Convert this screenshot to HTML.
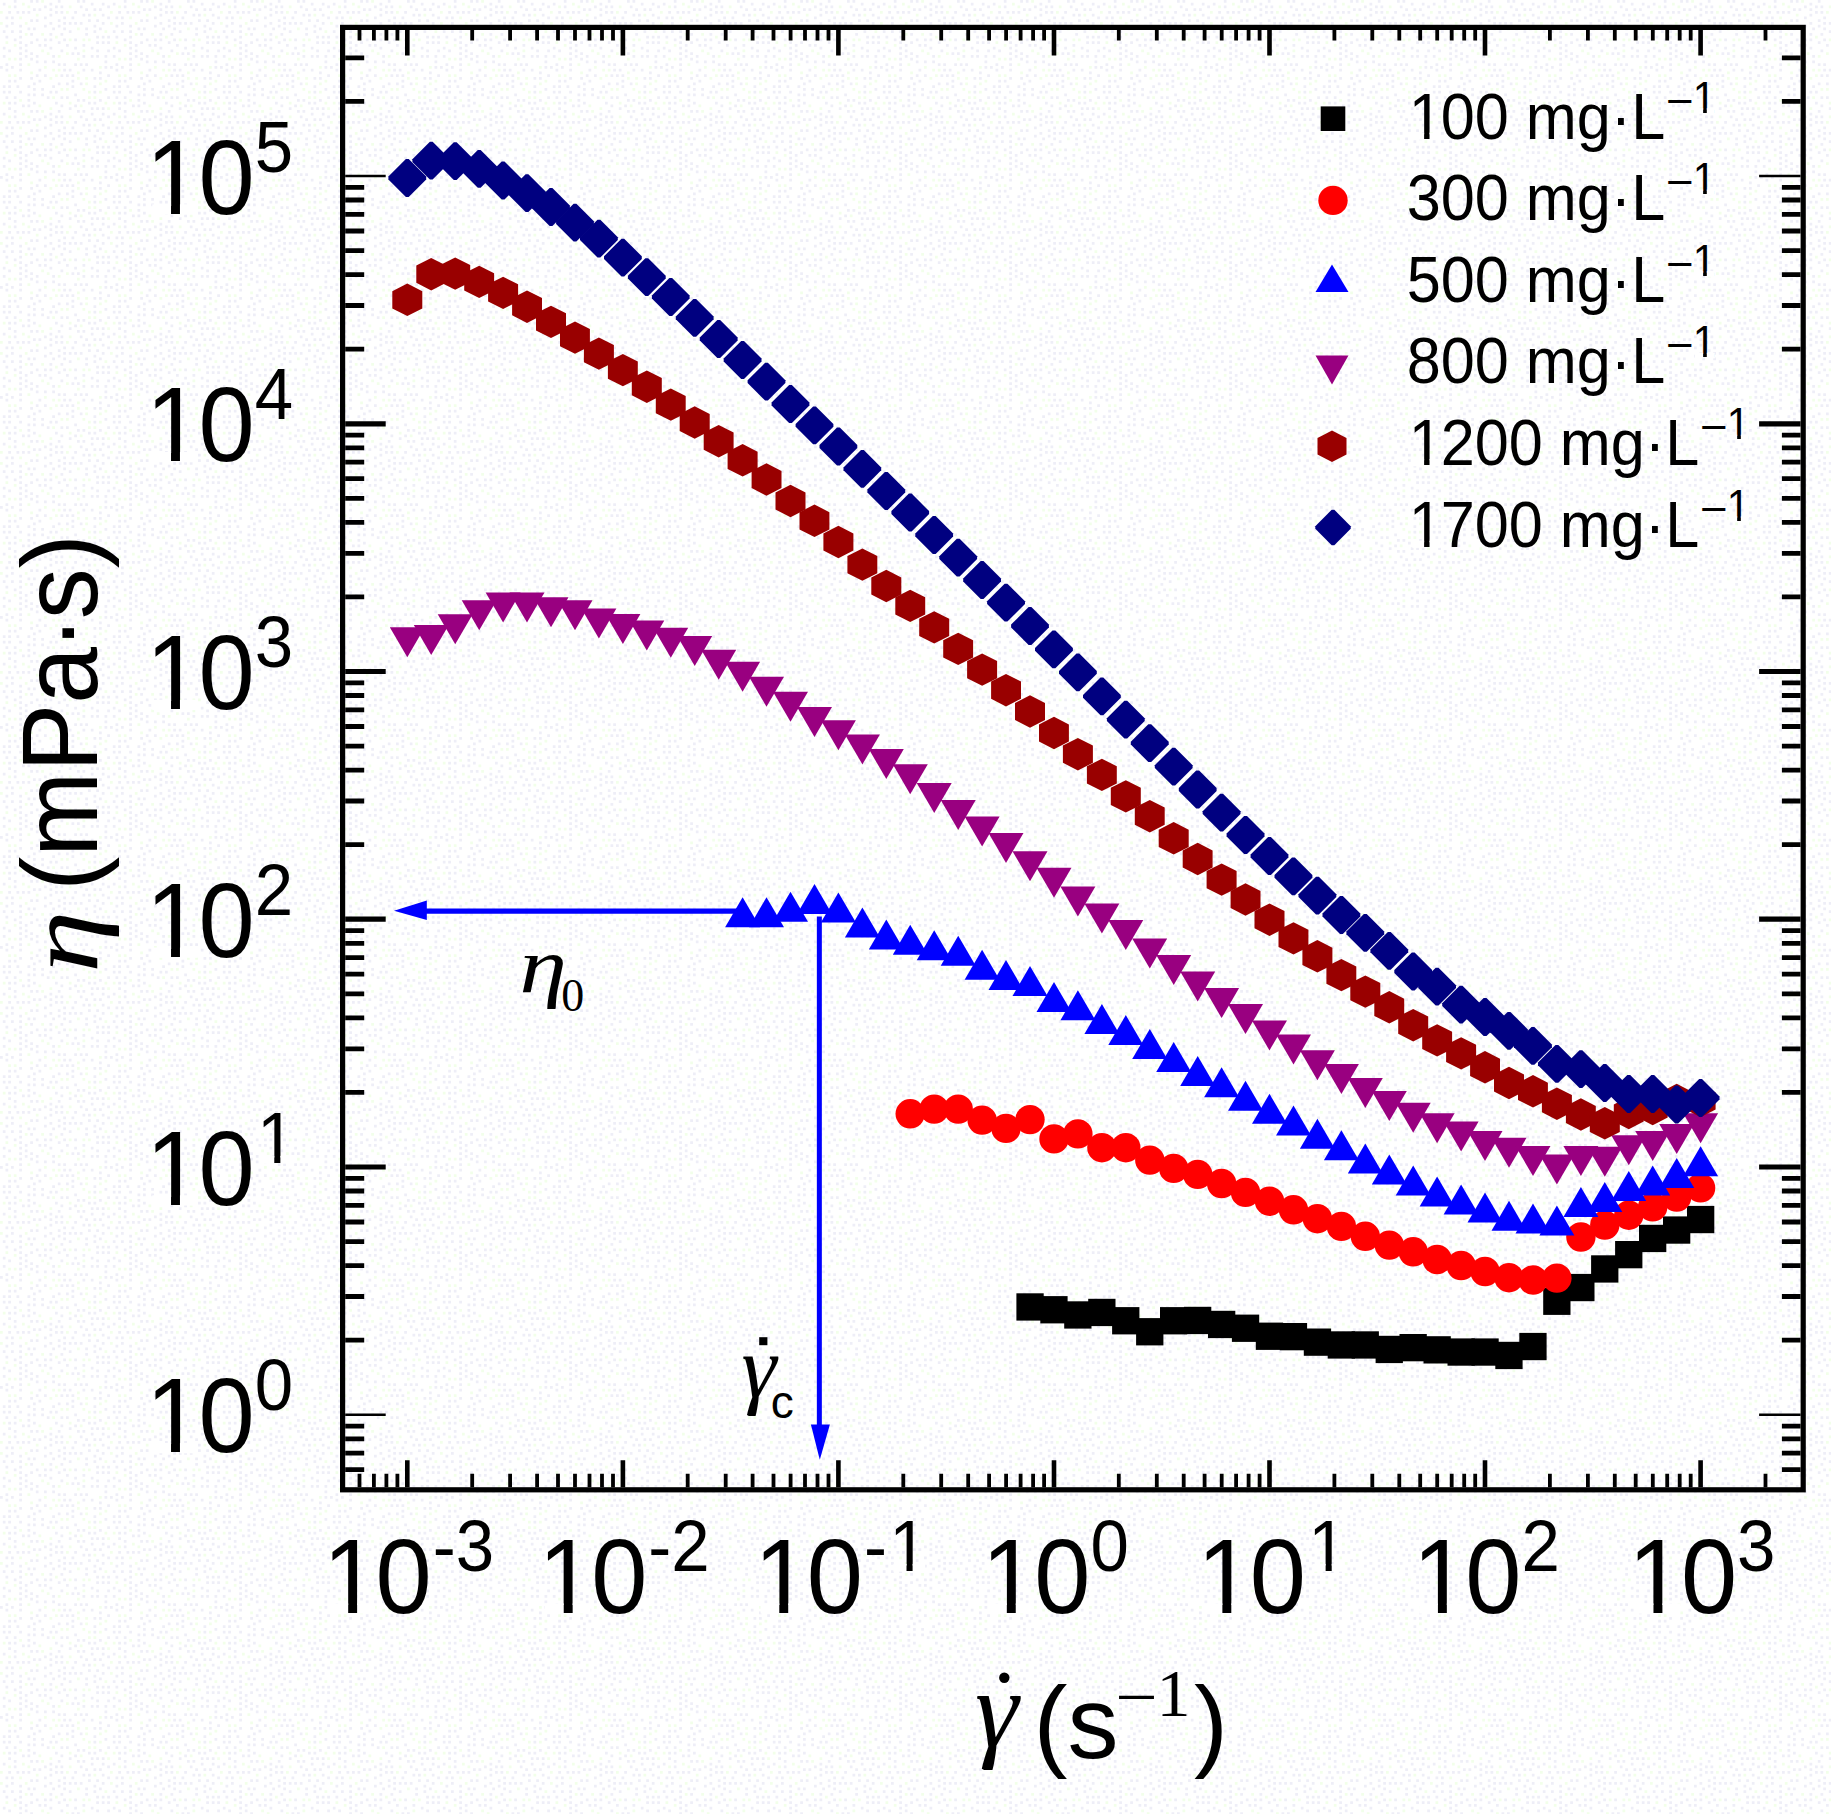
<!DOCTYPE html>
<html lang="en"><head><meta charset="utf-8"><title>Viscosity versus shear rate</title>
<style>
html,body{margin:0;padding:0;background:#fff;}
body{width:1831px;height:1814px;overflow:hidden;}
svg{display:block;}
text{font-family:"Liberation Sans",sans-serif;fill:#000;font-kerning:none;white-space:pre;}
.tl{font-size:101px;}
.sup{font-size:68px;}
.lg{font-size:62px;}
.lgs{font-size:40px;}
.it{font-family:"Liberation Serif",serif;font-style:italic;}
.se{font-family:"Liberation Serif",serif;}
</style></head><body>
<svg width="1831" height="1814" viewBox="0 0 1831 1814">
<rect x="0" y="0" width="1831" height="1814" fill="#ffffff"/>
<defs><pattern id="dz" width="110.0" height="110.0" patternUnits="userSpaceOnUse"><path d="M77 99h2.75v2.75h-2.75zM8.2 107.2h2.75v2.75h-2.75zM24.8 49.5h2.75v2.75h-2.75zM5.5 16.5h2.75v2.75h-2.75zM0 66h2.75v2.75h-2.75zM41.2 93.5h2.75v2.75h-2.75zM90.8 68.8h2.75v2.75h-2.75zM30.2 0h2.75v2.75h-2.75zM107.2 16.5h2.75v2.75h-2.75zM63.2 63.2h2.75v2.75h-2.75zM104.5 88h2.75v2.75h-2.75zM90.8 46.8h2.75v2.75h-2.75zM107.2 49.5h2.75v2.75h-2.75zM71.5 79.8h2.75v2.75h-2.75zM35.8 74.2h2.75v2.75h-2.75zM19.2 68.8h2.75v2.75h-2.75zM60.5 74.2h2.75v2.75h-2.75zM19.2 90.8h2.75v2.75h-2.75zM82.5 13.8h2.75v2.75h-2.75zM82.5 55h2.75v2.75h-2.75zM13.8 38.5h2.75v2.75h-2.75zM96.2 49.5h2.75v2.75h-2.75zM33 88h2.75v2.75h-2.75zM55 90.8h2.75v2.75h-2.75zM19.2 77h2.75v2.75h-2.75zM44 16.5h2.75v2.75h-2.75zM52.2 60.5h2.75v2.75h-2.75zM99 71.5h2.75v2.75h-2.75zM13.8 5.5h2.75v2.75h-2.75zM44 60.5h2.75v2.75h-2.75zM63.2 22h2.75v2.75h-2.75zM93.5 90.8h2.75v2.75h-2.75zM38.5 44h2.75v2.75h-2.75zM104.5 66h2.75v2.75h-2.75zM68.8 68.8h2.75v2.75h-2.75zM107.2 74.2h2.75v2.75h-2.75zM2.8 90.8h2.75v2.75h-2.75zM19.2 41.2h2.75v2.75h-2.75zM74.2 11h2.75v2.75h-2.75zM33 101.8h2.75v2.75h-2.75zM8.2 101.8h2.75v2.75h-2.75zM85.2 8.2h2.75v2.75h-2.75zM19.2 24.8h2.75v2.75h-2.75zM5.5 96.2h2.75v2.75h-2.75zM27.5 85.2h2.75v2.75h-2.75zM88 101.8h2.75v2.75h-2.75zM55 11h2.75v2.75h-2.75zM107.2 35.8h2.75v2.75h-2.75zM93.5 30.2h2.75v2.75h-2.75zM13.8 96.2h2.75v2.75h-2.75zM79.8 22h2.75v2.75h-2.75zM19.2 46.8h2.75v2.75h-2.75zM55 101.8h2.75v2.75h-2.75zM8.2 79.8h2.75v2.75h-2.75zM96.2 55h2.75v2.75h-2.75zM49.5 38.5h2.75v2.75h-2.75zM82.5 68.8h2.75v2.75h-2.75zM52.2 85.2h2.75v2.75h-2.75zM44 74.2h2.75v2.75h-2.75zM52.2 27.5h2.75v2.75h-2.75zM24.8 44h2.75v2.75h-2.75zM2.8 55h2.75v2.75h-2.75zM8.2 49.5h2.75v2.75h-2.75zM66 44h2.75v2.75h-2.75zM44 38.5h2.75v2.75h-2.75zM79.8 5.5h2.75v2.75h-2.75zM27.5 99h2.75v2.75h-2.75zM30.2 77h2.75v2.75h-2.75zM74.2 38.5h2.75v2.75h-2.75zM99 8.2h2.75v2.75h-2.75zM74.2 46.8h2.75v2.75h-2.75zM30.2 33h2.75v2.75h-2.75zM90.8 55h2.75v2.75h-2.75zM30.2 52.2h2.75v2.75h-2.75zM93.5 24.8h2.75v2.75h-2.75zM11 30.2h2.75v2.75h-2.75zM46.8 96.2h2.75v2.75h-2.75zM85.2 27.5h2.75v2.75h-2.75zM2.8 85.2h2.75v2.75h-2.75zM44 24.8h2.75v2.75h-2.75zM101.8 22h2.75v2.75h-2.75zM85.2 63.2h2.75v2.75h-2.75zM90.8 2.8h2.75v2.75h-2.75zM49.5 33h2.75v2.75h-2.75zM77 0h2.75v2.75h-2.75zM104.5 55h2.75v2.75h-2.75zM2.8 46.8h2.75v2.75h-2.75zM68.8 107.2h2.75v2.75h-2.75zM35.8 0h2.75v2.75h-2.75zM93.5 85.2h2.75v2.75h-2.75zM30.2 19.2h2.75v2.75h-2.75zM57.8 0h2.75v2.75h-2.75zM49.5 22h2.75v2.75h-2.75zM38.5 68.8h2.75v2.75h-2.75zM44 44h2.75v2.75h-2.75zM99 99h2.75v2.75h-2.75zM77 52.2h2.75v2.75h-2.75zM57.8 41.2h2.75v2.75h-2.75zM99 27.5h2.75v2.75h-2.75zM22 11h2.75v2.75h-2.75zM71.5 85.2h2.75v2.75h-2.75zM74.2 63.2h2.75v2.75h-2.75zM5.5 68.8h2.75v2.75h-2.75zM57.8 82.5h2.75v2.75h-2.75zM107.2 96.2h2.75v2.75h-2.75zM82.5 0h2.75v2.75h-2.75zM27.5 11h2.75v2.75h-2.75zM96.2 107.2h2.75v2.75h-2.75zM38.5 79.8h2.75v2.75h-2.75zM33 8.2h2.75v2.75h-2.75zM60.5 5.5h2.75v2.75h-2.75zM66 82.5h2.75v2.75h-2.75zM16.5 85.2h2.75v2.75h-2.75zM57.8 19.2h2.75v2.75h-2.75zM5.5 24.8h2.75v2.75h-2.75zM99 77h2.75v2.75h-2.75zM35.8 55h2.75v2.75h-2.75zM82.5 99h2.75v2.75h-2.75zM93.5 8.2h2.75v2.75h-2.75zM96.2 35.8h2.75v2.75h-2.75zM33 93.5h2.75v2.75h-2.75zM96.2 41.2h2.75v2.75h-2.75zM35.8 38.5h2.75v2.75h-2.75zM93.5 101.8h2.75v2.75h-2.75zM60.5 49.5h2.75v2.75h-2.75zM104.5 60.5h2.75v2.75h-2.75zM101.8 35.8h2.75v2.75h-2.75zM88 19.2h2.75v2.75h-2.75zM49.5 2.8h2.75v2.75h-2.75zM74.2 93.5h2.75v2.75h-2.75zM55 5.5h2.75v2.75h-2.75zM63.2 68.8h2.75v2.75h-2.75zM60.5 11h2.75v2.75h-2.75zM19.2 35.8h2.75v2.75h-2.75zM49.5 8.2h2.75v2.75h-2.75zM35.8 60.5h2.75v2.75h-2.75zM68.8 30.2h2.75v2.75h-2.75zM8.2 85.2h2.75v2.75h-2.75zM5.5 35.8h2.75v2.75h-2.75zM11 66h2.75v2.75h-2.75zM85.2 33h2.75v2.75h-2.75zM13.8 0h2.75v2.75h-2.75zM107.2 41.2h2.75v2.75h-2.75zM90.8 107.2h2.75v2.75h-2.75zM19.2 52.2h2.75v2.75h-2.75zM101.8 13.8h2.75v2.75h-2.75zM2.8 30.2h2.75v2.75h-2.75zM44 5.5h2.75v2.75h-2.75zM57.8 63.2h2.75v2.75h-2.75zM13.8 101.8h2.75v2.75h-2.75zM19.2 57.8h2.75v2.75h-2.75zM60.5 33h2.75v2.75h-2.75zM68.8 22h2.75v2.75h-2.75zM71.5 74.2h2.75v2.75h-2.75zM71.5 52.2h2.75v2.75h-2.75zM8.2 90.8h2.75v2.75h-2.75zM16.5 11h2.75v2.75h-2.75zM49.5 46.8h2.75v2.75h-2.75zM30.2 41.2h2.75v2.75h-2.75zM8.2 11h2.75v2.75h-2.75zM101.8 2.8h2.75v2.75h-2.75zM66 96.2h2.75v2.75h-2.75zM27.5 27.5h2.75v2.75h-2.75zM5.5 63.2h2.75v2.75h-2.75zM82.5 44h2.75v2.75h-2.75zM107.2 5.5h2.75v2.75h-2.75zM11 22h2.75v2.75h-2.75zM33 27.5h2.75v2.75h-2.75zM38.5 8.2h2.75v2.75h-2.75zM22 104.5h2.75v2.75h-2.75zM96.2 19.2h2.75v2.75h-2.75zM66 74.2h2.75v2.75h-2.75zM74.2 22h2.75v2.75h-2.75zM74.2 104.5h2.75v2.75h-2.75zM2.8 2.8h2.75v2.75h-2.75zM19.2 63.2h2.75v2.75h-2.75zM27.5 93.5h2.75v2.75h-2.75zM41.2 88h2.75v2.75h-2.75zM79.8 82.5h2.75v2.75h-2.75zM24.8 55h2.75v2.75h-2.75zM101.8 41.2h2.75v2.75h-2.75zM60.5 96.2h2.75v2.75h-2.75zM49.5 13.8h2.75v2.75h-2.75zM33 82.5h2.75v2.75h-2.75zM88 13.8h2.75v2.75h-2.75zM63.2 16.5h2.75v2.75h-2.75zM79.8 63.2h2.75v2.75h-2.75zM19.2 30.2h2.75v2.75h-2.75zM93.5 77h2.75v2.75h-2.75zM101.8 107.2h2.75v2.75h-2.75zM27.5 104.5h2.75v2.75h-2.75zM60.5 104.5h2.75v2.75h-2.75zM30.2 57.8h2.75v2.75h-2.75zM63.2 27.5h2.75v2.75h-2.75zM63.2 38.5h2.75v2.75h-2.75zM13.8 79.8h2.75v2.75h-2.75zM49.5 90.8h2.75v2.75h-2.75zM11 16.5h2.75v2.75h-2.75zM71.5 16.5h2.75v2.75h-2.75zM35.8 19.2h2.75v2.75h-2.75zM52.2 55h2.75v2.75h-2.75zM57.8 24.8h2.75v2.75h-2.75z" fill="#eeeef7"/><path d="M77 71.5h2.75v2.75h-2.75zM77 77h2.75v2.75h-2.75zM68.8 5.5h2.75v2.75h-2.75zM82.5 88h2.75v2.75h-2.75zM38.5 104.5h2.75v2.75h-2.75zM2.8 101.8h2.75v2.75h-2.75zM66 11h2.75v2.75h-2.75zM82.5 38.5h2.75v2.75h-2.75zM41.2 33h2.75v2.75h-2.75zM19.2 99h2.75v2.75h-2.75zM93.5 13.8h2.75v2.75h-2.75zM77 27.5h2.75v2.75h-2.75zM66 88h2.75v2.75h-2.75zM52.2 68.8h2.75v2.75h-2.75zM57.8 55h2.75v2.75h-2.75zM41.2 0h2.75v2.75h-2.75zM13.8 74.2h2.75v2.75h-2.75zM99 82.5h2.75v2.75h-2.75zM27.5 5.5h2.75v2.75h-2.75zM88 96.2h2.75v2.75h-2.75zM41.2 49.5h2.75v2.75h-2.75zM88 90.8h2.75v2.75h-2.75zM8.2 74.2h2.75v2.75h-2.75zM46.8 52.2h2.75v2.75h-2.75zM22 2.8h2.75v2.75h-2.75zM49.5 107.2h2.75v2.75h-2.75zM27.5 63.2h2.75v2.75h-2.75zM24.8 33h2.75v2.75h-2.75zM52.2 96.2h2.75v2.75h-2.75zM0 22h2.75v2.75h-2.75zM68.8 101.8h2.75v2.75h-2.75zM13.8 44h2.75v2.75h-2.75zM24.8 22h2.75v2.75h-2.75zM88 38.5h2.75v2.75h-2.75zM0 11h2.75v2.75h-2.75zM8.2 57.8h2.75v2.75h-2.75zM68.8 38.5h2.75v2.75h-2.75zM55 74.2h2.75v2.75h-2.75zM77 57.8h2.75v2.75h-2.75zM5.5 41.2h2.75v2.75h-2.75zM85.2 77h2.75v2.75h-2.75zM19.2 16.5h2.75v2.75h-2.75zM66 52.2h2.75v2.75h-2.75zM82.5 49.5h2.75v2.75h-2.75zM99 66h2.75v2.75h-2.75zM79.8 104.5h2.75v2.75h-2.75zM35.8 13.8h2.75v2.75h-2.75zM57.8 68.8h2.75v2.75h-2.75zM85.2 82.5h2.75v2.75h-2.75zM107.2 107.2h2.75v2.75h-2.75zM104.5 101.8h2.75v2.75h-2.75zM104.5 79.8h2.75v2.75h-2.75zM44 66h2.75v2.75h-2.75zM104.5 30.2h2.75v2.75h-2.75zM93.5 96.2h2.75v2.75h-2.75zM30.2 71.5h2.75v2.75h-2.75zM49.5 77h2.75v2.75h-2.75zM8.2 5.5h2.75v2.75h-2.75zM60.5 88h2.75v2.75h-2.75zM55 35.8h2.75v2.75h-2.75zM13.8 57.8h2.75v2.75h-2.75zM99 90.8h2.75v2.75h-2.75z" fill="#f2ffea"/></pattern></defs>
<rect x="0" y="0" width="1831" height="1814" fill="url(#dz)"/>
<g stroke="#000" fill="none"><path d="M359.5 1487.2V1473.7M359.5 30V40.5" stroke-width="3.8"/><path d="M373.9 1487.2V1473.7M373.9 30V40.5" stroke-width="3.8"/><path d="M386.4 1487.2V1473.7M386.4 30V40.5" stroke-width="3.8"/><path d="M397.4 1487.2V1473.7M397.4 30V40.5" stroke-width="3.8"/><path d="M407.3 1487.2V1460.2M407.3 30V55.5" stroke-width="4.6"/><path d="M472.2 1487.2V1473.7M472.2 30V40.5" stroke-width="3.8"/><path d="M510.1 1487.2V1473.7M510.1 30V40.5" stroke-width="3.8"/><path d="M537.1 1487.2V1473.7M537.1 30V40.5" stroke-width="3.8"/><path d="M558 1487.2V1473.7M558 30V40.5" stroke-width="3.8"/><path d="M575 1487.2V1473.7M575 30V40.5" stroke-width="3.8"/><path d="M589.5 1487.2V1473.7M589.5 30V40.5" stroke-width="3.8"/><path d="M602 1487.2V1473.7M602 30V40.5" stroke-width="3.8"/><path d="M613 1487.2V1473.7M613 30V40.5" stroke-width="3.8"/><path d="M622.9 1487.2V1460.2M622.9 30V55.5" stroke-width="4.6"/><path d="M687.7 1487.2V1473.7M687.7 30V40.5" stroke-width="3.8"/><path d="M725.7 1487.2V1473.7M725.7 30V40.5" stroke-width="3.8"/><path d="M752.6 1487.2V1473.7M752.6 30V40.5" stroke-width="3.8"/><path d="M773.5 1487.2V1473.7M773.5 30V40.5" stroke-width="3.8"/><path d="M790.6 1487.2V1473.7M790.6 30V40.5" stroke-width="3.8"/><path d="M805 1487.2V1473.7M805 30V40.5" stroke-width="3.8"/><path d="M817.5 1487.2V1473.7M817.5 30V40.5" stroke-width="3.8"/><path d="M828.5 1487.2V1473.7M828.5 30V40.5" stroke-width="3.8"/><path d="M838.4 1487.2V1460.2M838.4 30V55.5" stroke-width="4.6"/><path d="M903.3 1487.2V1473.7M903.3 30V40.5" stroke-width="3.8"/><path d="M941.2 1487.2V1473.7M941.2 30V40.5" stroke-width="3.8"/><path d="M968.2 1487.2V1473.7M968.2 30V40.5" stroke-width="3.8"/><path d="M989.1 1487.2V1473.7M989.1 30V40.5" stroke-width="3.8"/><path d="M1006.1 1487.2V1473.7M1006.1 30V40.5" stroke-width="3.8"/><path d="M1020.6 1487.2V1473.7M1020.6 30V40.5" stroke-width="3.8"/><path d="M1033.1 1487.2V1473.7M1033.1 30V40.5" stroke-width="3.8"/><path d="M1044.1 1487.2V1473.7M1044.1 30V40.5" stroke-width="3.8"/><path d="M1054 1487.2V1460.2M1054 30V55.5" stroke-width="4.6"/><path d="M1118.8 1487.2V1473.7M1118.8 30V40.5" stroke-width="3.8"/><path d="M1156.8 1487.2V1473.7M1156.8 30V40.5" stroke-width="3.8"/><path d="M1183.7 1487.2V1473.7M1183.7 30V40.5" stroke-width="3.8"/><path d="M1204.6 1487.2V1473.7M1204.6 30V40.5" stroke-width="3.8"/><path d="M1221.7 1487.2V1473.7M1221.7 30V40.5" stroke-width="3.8"/><path d="M1236.1 1487.2V1473.7M1236.1 30V40.5" stroke-width="3.8"/><path d="M1248.6 1487.2V1473.7M1248.6 30V40.5" stroke-width="3.8"/><path d="M1259.6 1487.2V1473.7M1259.6 30V40.5" stroke-width="3.8"/><path d="M1269.5 1487.2V1460.2M1269.5 30V55.5" stroke-width="4.6"/><path d="M1334.4 1487.2V1473.7M1334.4 30V40.5" stroke-width="3.8"/><path d="M1372.3 1487.2V1473.7M1372.3 30V40.5" stroke-width="3.8"/><path d="M1399.3 1487.2V1473.7M1399.3 30V40.5" stroke-width="3.8"/><path d="M1420.2 1487.2V1473.7M1420.2 30V40.5" stroke-width="3.8"/><path d="M1437.2 1487.2V1473.7M1437.2 30V40.5" stroke-width="3.8"/><path d="M1451.7 1487.2V1473.7M1451.7 30V40.5" stroke-width="3.8"/><path d="M1464.2 1487.2V1473.7M1464.2 30V40.5" stroke-width="3.8"/><path d="M1475.2 1487.2V1473.7M1475.2 30V40.5" stroke-width="3.8"/><path d="M1485 1487.2V1460.2M1485 30V55.5" stroke-width="4.6"/><path d="M1549.9 1487.2V1473.7M1549.9 30V40.5" stroke-width="3.8"/><path d="M1587.9 1487.2V1473.7M1587.9 30V40.5" stroke-width="3.8"/><path d="M1614.8 1487.2V1473.7M1614.8 30V40.5" stroke-width="3.8"/><path d="M1635.7 1487.2V1473.7M1635.7 30V40.5" stroke-width="3.8"/><path d="M1652.8 1487.2V1473.7M1652.8 30V40.5" stroke-width="3.8"/><path d="M1667.2 1487.2V1473.7M1667.2 30V40.5" stroke-width="3.8"/><path d="M1679.7 1487.2V1473.7M1679.7 30V40.5" stroke-width="3.8"/><path d="M1690.7 1487.2V1473.7M1690.7 30V40.5" stroke-width="3.8"/><path d="M1700.6 1487.2V1460.2M1700.6 30V55.5" stroke-width="4.6"/><path d="M1765.5 1487.2V1473.7M1765.5 30V40.5" stroke-width="3.8"/><path d="M345.2 1469.7H364.2M1800.6 1469.7H1781.9" stroke-width="4.8"/><path d="M345.2 1453.1H364.2M1800.6 1453.1H1781.9" stroke-width="4.8"/><path d="M345.2 1438.8H364.2M1800.6 1438.8H1781.9" stroke-width="4.8"/><path d="M345.2 1426.1H364.2M1800.6 1426.1H1781.9" stroke-width="4.8"/><path d="M345.2 1414.8H385.7M1800.6 1414.8H1759.1" stroke-width="2.4"/><path d="M345.2 1340.2H364.2M1800.6 1340.2H1781.9" stroke-width="4.8"/><path d="M345.2 1296.5H364.2M1800.6 1296.5H1781.9" stroke-width="4.8"/><path d="M345.2 1265.6H364.2M1800.6 1265.6H1781.9" stroke-width="4.8"/><path d="M345.2 1241.6H364.2M1800.6 1241.6H1781.9" stroke-width="4.8"/><path d="M345.2 1222H364.2M1800.6 1222H1781.9" stroke-width="4.8"/><path d="M345.2 1205.4H364.2M1800.6 1205.4H1781.9" stroke-width="4.8"/><path d="M345.2 1191H364.2M1800.6 1191H1781.9" stroke-width="4.8"/><path d="M345.2 1178.3H364.2M1800.6 1178.3H1781.9" stroke-width="4.8"/><path d="M345.2 1167H385.7M1800.6 1167H1759.1" stroke-width="5.2"/><path d="M345.2 1092.4H364.2M1800.6 1092.4H1781.9" stroke-width="4.8"/><path d="M345.2 1048.8H364.2M1800.6 1048.8H1781.9" stroke-width="4.8"/><path d="M345.2 1017.8H364.2M1800.6 1017.8H1781.9" stroke-width="4.8"/><path d="M345.2 993.8H364.2M1800.6 993.8H1781.9" stroke-width="4.8"/><path d="M345.2 974.2H364.2M1800.6 974.2H1781.9" stroke-width="4.8"/><path d="M345.2 957.6H364.2M1800.6 957.6H1781.9" stroke-width="4.8"/><path d="M345.2 943.3H364.2M1800.6 943.3H1781.9" stroke-width="4.8"/><path d="M345.2 930.6H364.2M1800.6 930.6H1781.9" stroke-width="4.8"/><path d="M345.2 919.2H385.7M1800.6 919.2H1759.1" stroke-width="5.2"/><path d="M345.2 844.7H364.2M1800.6 844.7H1781.9" stroke-width="4.8"/><path d="M345.2 801H364.2M1800.6 801H1781.9" stroke-width="4.8"/><path d="M345.2 770.1H364.2M1800.6 770.1H1781.9" stroke-width="4.8"/><path d="M345.2 746.1H364.2M1800.6 746.1H1781.9" stroke-width="4.8"/><path d="M345.2 726.5H364.2M1800.6 726.5H1781.9" stroke-width="4.8"/><path d="M345.2 709.9H364.2M1800.6 709.9H1781.9" stroke-width="4.8"/><path d="M345.2 695.5H364.2M1800.6 695.5H1781.9" stroke-width="4.8"/><path d="M345.2 682.8H364.2M1800.6 682.8H1781.9" stroke-width="4.8"/><path d="M345.2 671.5H385.7M1800.6 671.5H1759.1" stroke-width="5.2"/><path d="M345.2 596.9H364.2M1800.6 596.9H1781.9" stroke-width="4.8"/><path d="M345.2 553.3H364.2M1800.6 553.3H1781.9" stroke-width="4.8"/><path d="M345.2 522.3H364.2M1800.6 522.3H1781.9" stroke-width="4.8"/><path d="M345.2 498.3H364.2M1800.6 498.3H1781.9" stroke-width="4.8"/><path d="M345.2 478.7H364.2M1800.6 478.7H1781.9" stroke-width="4.8"/><path d="M345.2 462.1H364.2M1800.6 462.1H1781.9" stroke-width="4.8"/><path d="M345.2 447.8H364.2M1800.6 447.8H1781.9" stroke-width="4.8"/><path d="M345.2 435.1H364.2M1800.6 435.1H1781.9" stroke-width="4.8"/><path d="M345.2 423.8H385.7M1800.6 423.8H1759.1" stroke-width="5.2"/><path d="M345.2 349.2H364.2M1800.6 349.2H1781.9" stroke-width="4.8"/><path d="M345.2 305.5H364.2M1800.6 305.5H1781.9" stroke-width="4.8"/><path d="M345.2 274.6H364.2M1800.6 274.6H1781.9" stroke-width="4.8"/><path d="M345.2 250.6H364.2M1800.6 250.6H1781.9" stroke-width="4.8"/><path d="M345.2 231H364.2M1800.6 231H1781.9" stroke-width="4.8"/><path d="M345.2 214.4H364.2M1800.6 214.4H1781.9" stroke-width="4.8"/><path d="M345.2 200H364.2M1800.6 200H1781.9" stroke-width="4.8"/><path d="M345.2 187.3H364.2M1800.6 187.3H1781.9" stroke-width="4.8"/><path d="M345.2 176H385.7M1800.6 176H1759.1" stroke-width="2.4"/><path d="M345.2 101.4H364.2M1800.6 101.4H1781.9" stroke-width="4.8"/><path d="M345.2 57.8H364.2M1800.6 57.8H1781.9" stroke-width="4.8"/></g>
<rect x="342.6" y="27.4" width="1460.6" height="1462.4" fill="none" stroke="#000" stroke-width="5.2"/>
<g transform="translate(0 1612.7) scale(1 1.05)"><text><tspan x="322.79" y="0" style="font-size:101px">1</tspan><tspan x="375.62" y="0" style="font-size:101px">0</tspan><tspan x="432.8" y="-40" style="font-size:69px">-3</tspan></text><g fill="#ffffff"><rect x="329.48" y="-8.85" width="18.7" height="9.75"/><rect x="357.11" y="-8.85" width="17.92" height="9.75"/></g></g>
<g transform="translate(0 1612.7) scale(1 1.05)"><text><tspan x="538.34" y="0" style="font-size:101px">1</tspan><tspan x="591.17" y="0" style="font-size:101px">0</tspan><tspan x="648.35" y="-40" style="font-size:69px">-2</tspan></text><g fill="#ffffff"><rect x="545.03" y="-8.85" width="18.7" height="9.75"/><rect x="572.66" y="-8.85" width="17.92" height="9.75"/></g></g>
<g transform="translate(0 1612.7) scale(1 1.05)"><text><tspan x="753.89" y="0" style="font-size:101px">1</tspan><tspan x="806.72" y="0" style="font-size:101px">0</tspan><tspan x="863.9" y="-40" style="font-size:69px">-</tspan><tspan x="889.15" y="-40" style="font-size:69px">1</tspan></text><g fill="#ffffff"><rect x="760.58" y="-8.85" width="18.7" height="9.75"/><rect x="788.21" y="-8.85" width="17.92" height="9.75"/><rect x="893.41" y="-46.45" width="13.1" height="7.35"/><rect x="912.6" y="-46.45" width="12.56" height="7.35"/></g></g>
<g transform="translate(0 1612.7) scale(1 1.05)"><text><tspan x="981.42" y="0" style="font-size:101px">1</tspan><tspan x="1034.26" y="0" style="font-size:101px">0</tspan><tspan x="1090.43" y="-40" style="font-size:69px">0</tspan></text><g fill="#ffffff"><rect x="988.12" y="-8.85" width="18.7" height="9.75"/><rect x="1015.75" y="-8.85" width="17.92" height="9.75"/></g></g>
<g transform="translate(0 1612.7) scale(1 1.05)"><text><tspan x="1196.97" y="0" style="font-size:101px">1</tspan><tspan x="1249.81" y="0" style="font-size:101px">0</tspan><tspan x="1308.26" y="-40" style="font-size:69px">1</tspan></text><g fill="#ffffff"><rect x="1203.67" y="-8.85" width="18.7" height="9.75"/><rect x="1231.3" y="-8.85" width="17.92" height="9.75"/><rect x="1312.52" y="-46.45" width="13.1" height="7.35"/><rect x="1331.71" y="-46.45" width="12.56" height="7.35"/></g></g>
<g transform="translate(0 1612.7) scale(1 1.05)"><text><tspan x="1412.52" y="0" style="font-size:101px">1</tspan><tspan x="1465.36" y="0" style="font-size:101px">0</tspan><tspan x="1521.53" y="-40" style="font-size:69px">2</tspan></text><g fill="#ffffff"><rect x="1419.22" y="-8.85" width="18.7" height="9.75"/><rect x="1446.85" y="-8.85" width="17.92" height="9.75"/></g></g>
<g transform="translate(0 1612.7) scale(1 1.05)"><text><tspan x="1628.07" y="0" style="font-size:101px">1</tspan><tspan x="1680.91" y="0" style="font-size:101px">0</tspan><tspan x="1737.08" y="-40" style="font-size:69px">3</tspan></text><g fill="#ffffff"><rect x="1634.77" y="-8.85" width="18.7" height="9.75"/><rect x="1662.4" y="-8.85" width="17.92" height="9.75"/></g></g>
<g transform="translate(0 1452.35) scale(1 1.05)"><text><tspan x="145.63" y="0" style="font-size:101px">1</tspan><tspan x="198.47" y="0" style="font-size:101px">0</tspan><tspan x="254.64" y="-40" style="font-size:69px">0</tspan></text><g fill="#ffffff"><rect x="152.33" y="-8.85" width="18.7" height="9.75"/><rect x="179.96" y="-8.85" width="17.92" height="9.75"/></g></g>
<g transform="translate(0 1204.6) scale(1 1.05)"><text><tspan x="145.63" y="0" style="font-size:101px">1</tspan><tspan x="198.47" y="0" style="font-size:101px">0</tspan><tspan x="256.92" y="-40" style="font-size:69px">1</tspan></text><g fill="#ffffff"><rect x="152.33" y="-8.85" width="18.7" height="9.75"/><rect x="179.96" y="-8.85" width="17.92" height="9.75"/><rect x="261.18" y="-46.45" width="13.1" height="7.35"/><rect x="280.37" y="-46.45" width="12.56" height="7.35"/></g></g>
<g transform="translate(0 956.85) scale(1 1.05)"><text><tspan x="145.63" y="0" style="font-size:101px">1</tspan><tspan x="198.47" y="0" style="font-size:101px">0</tspan><tspan x="254.64" y="-40" style="font-size:69px">2</tspan></text><g fill="#ffffff"><rect x="152.33" y="-8.85" width="18.7" height="9.75"/><rect x="179.96" y="-8.85" width="17.92" height="9.75"/></g></g>
<g transform="translate(0 709.1) scale(1 1.05)"><text><tspan x="145.63" y="0" style="font-size:101px">1</tspan><tspan x="198.47" y="0" style="font-size:101px">0</tspan><tspan x="254.64" y="-40" style="font-size:69px">3</tspan></text><g fill="#ffffff"><rect x="152.33" y="-8.85" width="18.7" height="9.75"/><rect x="179.96" y="-8.85" width="17.92" height="9.75"/></g></g>
<g transform="translate(0 461.35) scale(1 1.05)"><text><tspan x="145.63" y="0" style="font-size:101px">1</tspan><tspan x="198.47" y="0" style="font-size:101px">0</tspan><tspan x="254.64" y="-40" style="font-size:69px">4</tspan></text><g fill="#ffffff"><rect x="152.33" y="-8.85" width="18.7" height="9.75"/><rect x="179.96" y="-8.85" width="17.92" height="9.75"/></g></g>
<g transform="translate(0 213.6) scale(1 1.05)"><text><tspan x="145.63" y="0" style="font-size:101px">1</tspan><tspan x="198.47" y="0" style="font-size:101px">0</tspan><tspan x="254.64" y="-40" style="font-size:69px">5</tspan></text><g fill="#ffffff"><rect x="152.33" y="-8.85" width="18.7" height="9.75"/><rect x="179.96" y="-8.85" width="17.92" height="9.75"/></g></g>
<g fill="#000000"><rect x="1016.4" y="1293.3" width="27.3" height="27.3"/><rect x="1040.3" y="1296.1" width="27.3" height="27.3"/><rect x="1064.2" y="1301.3" width="27.3" height="27.3"/><rect x="1088.2" y="1298.8" width="27.3" height="27.3"/><rect x="1112.1" y="1307.1" width="27.3" height="27.3"/><rect x="1136.1" y="1318.1" width="27.3" height="27.3"/><rect x="1160" y="1307.1" width="27.3" height="27.3"/><rect x="1184" y="1306.8" width="27.3" height="27.3"/><rect x="1208" y="1310.8" width="27.3" height="27.3"/><rect x="1231.9" y="1314.6" width="27.3" height="27.3"/><rect x="1255.8" y="1322.6" width="27.3" height="27.3"/><rect x="1279.8" y="1323" width="27.3" height="27.3"/><rect x="1303.8" y="1328.5" width="27.3" height="27.3"/><rect x="1327.7" y="1331.3" width="27.3" height="27.3"/><rect x="1351.6" y="1331.3" width="27.3" height="27.3"/><rect x="1375.6" y="1335.8" width="27.3" height="27.3"/><rect x="1399.5" y="1334" width="27.3" height="27.3"/><rect x="1423.5" y="1336.2" width="27.3" height="27.3"/><rect x="1447.5" y="1338.4" width="27.3" height="27.3"/><rect x="1471.4" y="1338.4" width="27.3" height="27.3"/><rect x="1495.3" y="1341.8" width="27.3" height="27.3"/><rect x="1519.3" y="1332.9" width="27.3" height="27.3"/><rect x="1543.2" y="1287.6" width="27.3" height="27.3"/><rect x="1567.2" y="1273.9" width="27.3" height="27.3"/><rect x="1591.1" y="1255.3" width="27.3" height="27.3"/><rect x="1615.1" y="1241" width="27.3" height="27.3"/><rect x="1639" y="1224.8" width="27.3" height="27.3"/><rect x="1663" y="1216.4" width="27.3" height="27.3"/><rect x="1687" y="1205.9" width="27.3" height="27.3"/></g>
<g fill="#ff0000"><circle cx="910.2" cy="1113.8" r="14.7"/><circle cx="934.2" cy="1109.1" r="14.7"/><circle cx="958.2" cy="1109.1" r="14.7"/><circle cx="982.1" cy="1120.1" r="14.7"/><circle cx="1006" cy="1128.4" r="14.7"/><circle cx="1030" cy="1119.6" r="14.7"/><circle cx="1054" cy="1138.9" r="14.7"/><circle cx="1077.9" cy="1133.9" r="14.7"/><circle cx="1101.9" cy="1147.7" r="14.7"/><circle cx="1125.8" cy="1147.7" r="14.7"/><circle cx="1149.8" cy="1160.1" r="14.7"/><circle cx="1173.7" cy="1168.4" r="14.7"/><circle cx="1197.7" cy="1174.4" r="14.7"/><circle cx="1221.6" cy="1183.5" r="14.7"/><circle cx="1245.5" cy="1192.4" r="14.7"/><circle cx="1269.5" cy="1201.2" r="14.7"/><circle cx="1293.5" cy="1209.8" r="14.7"/><circle cx="1317.4" cy="1218.7" r="14.7"/><circle cx="1341.4" cy="1226.4" r="14.7"/><circle cx="1365.3" cy="1236.3" r="14.7"/><circle cx="1389.3" cy="1245.1" r="14.7"/><circle cx="1413.2" cy="1251.8" r="14.7"/><circle cx="1437.1" cy="1259.5" r="14.7"/><circle cx="1461.1" cy="1265.5" r="14.7"/><circle cx="1485" cy="1271.5" r="14.7"/><circle cx="1509" cy="1277.7" r="14.7"/><circle cx="1533" cy="1280" r="14.7"/><circle cx="1556.9" cy="1278.1" r="14.7"/><circle cx="1580.9" cy="1237" r="14.7"/><circle cx="1604.8" cy="1225.1" r="14.7"/><circle cx="1628.8" cy="1215.2" r="14.7"/><circle cx="1652.7" cy="1206.9" r="14.7"/><circle cx="1676.7" cy="1197" r="14.7"/><circle cx="1700.6" cy="1187.9" r="14.7"/></g>
<g fill="#0000ff"><polygon points="742.6,897.3 760.1,927.3 725.1,927.3"/><polygon points="766.5,897.3 784,927.3 749,927.3"/><polygon points="790.5,891.7 808,921.7 773,921.7"/><polygon points="814.5,884.1 832,914.1 797,914.1"/><polygon points="838.4,892.5 855.9,922.5 820.9,922.5"/><polygon points="862.4,907.6 879.9,937.6 844.9,937.6"/><polygon points="886.3,919.5 903.8,949.5 868.8,949.5"/><polygon points="910.2,924.7 927.8,954.7 892.8,954.7"/><polygon points="934.2,930.2 951.7,960.2 916.7,960.2"/><polygon points="958.2,935.7 975.7,965.7 940.7,965.7"/><polygon points="982.1,949.8 999.6,979.8 964.6,979.8"/><polygon points="1006,960 1023.5,990 988.5,990"/><polygon points="1030,966 1047.5,996 1012.5,996"/><polygon points="1054,982 1071.5,1012 1036.5,1012"/><polygon points="1077.9,990.3 1095.4,1020.3 1060.4,1020.3"/><polygon points="1101.9,1004.1 1119.4,1034.1 1084.4,1034.1"/><polygon points="1125.8,1015.1 1143.3,1045.1 1108.3,1045.1"/><polygon points="1149.8,1028.9 1167.2,1058.9 1132.2,1058.9"/><polygon points="1173.7,1042.1 1191.2,1072.1 1156.2,1072.1"/><polygon points="1197.7,1055.9 1215.2,1085.9 1180.2,1085.9"/><polygon points="1221.6,1067.3 1239.1,1097.3 1204.1,1097.3"/><polygon points="1245.5,1080.7 1263,1110.7 1228,1110.7"/><polygon points="1269.5,1093.8 1287,1123.8 1252,1123.8"/><polygon points="1293.5,1105.4 1311,1135.4 1276,1135.4"/><polygon points="1317.4,1118.8 1334.9,1148.8 1299.9,1148.8"/><polygon points="1341.4,1130.2 1358.9,1160.2 1323.9,1160.2"/><polygon points="1365.3,1143.5 1382.8,1173.5 1347.8,1173.5"/><polygon points="1389.3,1154.5 1406.8,1184.5 1371.8,1184.5"/><polygon points="1413.2,1165.5 1430.7,1195.5 1395.7,1195.5"/><polygon points="1437.1,1176.5 1454.6,1206.5 1419.6,1206.5"/><polygon points="1461.1,1184.6 1478.6,1214.6 1443.6,1214.6"/><polygon points="1485,1192.6 1502.5,1222.6 1467.5,1222.6"/><polygon points="1509,1200.8 1526.5,1230.8 1491.5,1230.8"/><polygon points="1533,1203.6 1550.5,1233.6 1515.5,1233.6"/><polygon points="1556.9,1205.5 1574.4,1235.5 1539.4,1235.5"/><polygon points="1580.9,1186.9 1598.4,1216.9 1563.4,1216.9"/><polygon points="1604.8,1181.9 1622.3,1211.9 1587.3,1211.9"/><polygon points="1628.8,1171.1 1646.2,1201.1 1611.2,1201.1"/><polygon points="1652.7,1165.4 1670.2,1195.4 1635.2,1195.4"/><polygon points="1676.7,1157.9 1694.2,1187.9 1659.2,1187.9"/><polygon points="1700.6,1146.3 1718.1,1176.3 1683.1,1176.3"/></g>
<g fill="#990080"><polygon points="407.3,657.3 424.8,627.3 389.8,627.3"/><polygon points="431.2,654.9 448.8,624.9 413.8,624.9"/><polygon points="455.2,644.2 472.7,614.2 437.7,614.2"/><polygon points="479.2,630.2 496.7,600.2 461.7,600.2"/><polygon points="503.1,622.5 520.6,592.5 485.6,592.5"/><polygon points="527,622.5 544.5,592.5 509.5,592.5"/><polygon points="551,627.3 568.5,597.3 533.5,597.3"/><polygon points="575,630.2 592.5,600.2 557.5,600.2"/><polygon points="598.9,638.5 616.4,608.5 581.4,608.5"/><polygon points="622.9,644 640.4,614 605.4,614"/><polygon points="646.8,650.4 664.3,620.4 629.3,620.4"/><polygon points="670.8,657.8 688.2,627.8 653.2,627.8"/><polygon points="694.7,666 712.2,636 677.2,636"/><polygon points="718.7,679.7 736.2,649.7 701.2,649.7"/><polygon points="742.6,691.8 760.1,661.8 725.1,661.8"/><polygon points="766.5,706.7 784,676.7 749,676.7"/><polygon points="790.5,721.7 808,691.7 773,691.7"/><polygon points="814.5,737 832,707 797,707"/><polygon points="838.4,750.3 855.9,720.3 820.9,720.3"/><polygon points="862.4,764.4 879.9,734.4 844.9,734.4"/><polygon points="886.3,779.1 903.8,749.1 868.8,749.1"/><polygon points="910.2,794.3 927.8,764.3 892.8,764.3"/><polygon points="934.2,812.9 951.7,782.9 916.7,782.9"/><polygon points="958.2,830.1 975.7,800.1 940.7,800.1"/><polygon points="982.1,846.4 999.6,816.4 964.6,816.4"/><polygon points="1006,862.9 1023.5,832.9 988.5,832.9"/><polygon points="1030,881.3 1047.5,851.3 1012.5,851.3"/><polygon points="1054,897.8 1071.5,867.8 1036.5,867.8"/><polygon points="1077.9,916.5 1095.4,886.5 1060.4,886.5"/><polygon points="1101.9,933.5 1119.4,903.5 1084.4,903.5"/><polygon points="1125.8,950 1143.3,920 1108.3,920"/><polygon points="1149.8,968.5 1167.2,938.5 1132.2,938.5"/><polygon points="1173.7,985 1191.2,955 1156.2,955"/><polygon points="1197.7,1001.6 1215.2,971.6 1180.2,971.6"/><polygon points="1221.6,1018.1 1239.1,988.1 1204.1,988.1"/><polygon points="1245.5,1034.1 1263,1004.1 1228,1004.1"/><polygon points="1269.5,1050.4 1287,1020.4 1252,1020.4"/><polygon points="1293.5,1064.5 1311,1034.5 1276,1034.5"/><polygon points="1317.4,1080.3 1334.9,1050.3 1299.9,1050.3"/><polygon points="1341.4,1094.1 1358.9,1064.1 1323.9,1064.1"/><polygon points="1365.3,1107.9 1382.8,1077.9 1347.8,1077.9"/><polygon points="1389.3,1121.1 1406.8,1091.1 1371.8,1091.1"/><polygon points="1413.2,1132.7 1430.7,1102.7 1395.7,1102.7"/><polygon points="1437.1,1143.2 1454.6,1113.2 1419.6,1113.2"/><polygon points="1461.1,1151.5 1478.6,1121.5 1443.6,1121.5"/><polygon points="1485,1161.1 1502.5,1131.1 1467.5,1131.1"/><polygon points="1509,1167.8 1526.5,1137.8 1491.5,1137.8"/><polygon points="1533,1176.1 1550.5,1146.1 1515.5,1146.1"/><polygon points="1556.9,1184.6 1574.4,1154.6 1539.4,1154.6"/><polygon points="1580.9,1176.1 1598.4,1146.1 1563.4,1146.1"/><polygon points="1604.8,1176.8 1622.3,1146.8 1587.3,1146.8"/><polygon points="1628.8,1165.2 1646.2,1135.2 1611.2,1135.2"/><polygon points="1652.7,1161.1 1670.2,1131.1 1635.2,1131.1"/><polygon points="1676.7,1154.1 1694.2,1124.1 1659.2,1124.1"/><polygon points="1700.6,1143.3 1718.1,1113.3 1683.1,1113.3"/></g>
<g fill="#990000"><polygon points="407.3,283.6 422.3,291.2 422.3,308.4 407.3,316 392.3,308.4 392.3,291.2"/><polygon points="431.2,258 446.2,265.6 446.2,282.8 431.2,290.4 416.3,282.8 416.3,265.6"/><polygon points="455.2,257.4 470.2,265 470.2,282.2 455.2,289.8 440.2,282.2 440.2,265"/><polygon points="479.2,265.7 494.1,273.3 494.1,290.5 479.2,298.1 464.2,290.5 464.2,273.3"/><polygon points="503.1,276.7 518.1,284.3 518.1,301.5 503.1,309.1 488.1,301.5 488.1,284.3"/><polygon points="527,290.5 542,298.1 542,315.3 527,322.9 512.1,315.3 512.1,298.1"/><polygon points="551,305.7 566,313.3 566,330.5 551,338.1 536,330.5 536,313.3"/><polygon points="575,321.4 589.9,329 589.9,346.2 575,353.8 560,346.2 560,329"/><polygon points="598.9,337.4 613.9,345 613.9,362.2 598.9,369.8 583.9,362.2 583.9,345"/><polygon points="622.9,353.9 637.8,361.5 637.8,378.7 622.9,386.3 607.9,378.7 607.9,361.5"/><polygon points="646.8,370.5 661.8,378.1 661.8,395.3 646.8,402.9 631.8,395.3 631.8,378.1"/><polygon points="670.8,388.4 685.7,396 685.7,413.2 670.8,420.8 655.8,413.2 655.8,396"/><polygon points="694.7,406.3 709.7,413.9 709.7,431.1 694.7,438.7 679.7,431.1 679.7,413.9"/><polygon points="718.7,425 733.6,432.6 733.6,449.8 718.7,457.4 703.7,449.8 703.7,432.6"/><polygon points="742.6,444.1 757.6,451.7 757.6,468.9 742.6,476.5 727.6,468.9 727.6,451.7"/><polygon points="766.5,463.3 781.5,470.9 781.5,488.1 766.5,495.7 751.6,488.1 751.6,470.9"/><polygon points="790.5,484.8 805.5,492.4 805.5,509.6 790.5,517.2 775.5,509.6 775.5,492.4"/><polygon points="814.5,504.6 829.4,512.2 829.4,529.4 814.5,537 799.5,529.4 799.5,512.2"/><polygon points="838.4,525.8 853.4,533.4 853.4,550.6 838.4,558.2 823.4,550.6 823.4,533.4"/><polygon points="862.4,548.4 877.3,556 877.3,573.2 862.4,580.8 847.4,573.2 847.4,556"/><polygon points="886.3,569.8 901.3,577.4 901.3,594.6 886.3,602.2 871.3,594.6 871.3,577.4"/><polygon points="910.2,589.7 925.2,597.3 925.2,614.5 910.2,622.1 895.3,614.5 895.3,597.3"/><polygon points="934.2,611.2 949.2,618.8 949.2,636 934.2,643.6 919.2,636 919.2,618.8"/><polygon points="958.2,632.7 973.1,640.3 973.1,657.5 958.2,665.1 943.2,657.5 943.2,640.3"/><polygon points="982.1,653.4 997.1,661 997.1,678.2 982.1,685.8 967.1,678.2 967.1,661"/><polygon points="1006,674 1021,681.6 1021,698.8 1006,706.4 991.1,698.8 991.1,681.6"/><polygon points="1030,695.3 1045,702.9 1045,720.1 1030,727.7 1015,720.1 1015,702.9"/><polygon points="1054,716.8 1068.9,724.4 1068.9,741.6 1054,749.2 1039,741.6 1039,724.4"/><polygon points="1077.9,738 1092.9,745.6 1092.9,762.8 1077.9,770.4 1062.9,762.8 1062.9,745.6"/><polygon points="1101.9,758.7 1116.8,766.3 1116.8,783.5 1101.9,791.1 1086.9,783.5 1086.9,766.3"/><polygon points="1125.8,780.2 1140.8,787.8 1140.8,805 1125.8,812.6 1110.8,805 1110.8,787.8"/><polygon points="1149.8,800 1164.7,807.6 1164.7,824.8 1149.8,832.4 1134.8,824.8 1134.8,807.6"/><polygon points="1173.7,822.1 1188.7,829.7 1188.7,846.9 1173.7,854.5 1158.7,846.9 1158.7,829.7"/><polygon points="1197.7,842.8 1212.6,850.4 1212.6,867.6 1197.7,875.2 1182.7,867.6 1182.7,850.4"/><polygon points="1221.6,863.4 1236.6,871 1236.6,888.2 1221.6,895.8 1206.6,888.2 1206.6,871"/><polygon points="1245.5,883.3 1260.5,890.9 1260.5,908.1 1245.5,915.7 1230.6,908.1 1230.6,890.9"/><polygon points="1269.5,903.5 1284.5,911.1 1284.5,928.3 1269.5,935.9 1254.5,928.3 1254.5,911.1"/><polygon points="1293.5,922.2 1308.4,929.8 1308.4,947 1293.5,954.6 1278.5,947 1278.5,929.8"/><polygon points="1317.4,940.1 1332.4,947.7 1332.4,964.9 1317.4,972.5 1302.4,964.9 1302.4,947.7"/><polygon points="1341.4,958.9 1356.3,966.5 1356.3,983.7 1341.4,991.3 1326.4,983.7 1326.4,966.5"/><polygon points="1365.3,975.4 1380.3,983 1380.3,1000.2 1365.3,1007.8 1350.3,1000.2 1350.3,983"/><polygon points="1389.3,991.1 1404.2,998.7 1404.2,1015.9 1389.3,1023.5 1374.3,1015.9 1374.3,998.7"/><polygon points="1413.2,1009 1428.2,1016.6 1428.2,1033.8 1413.2,1041.4 1398.2,1033.8 1398.2,1016.6"/><polygon points="1437.1,1024.2 1452.1,1031.8 1452.1,1049 1437.1,1056.6 1422.2,1049 1422.2,1031.8"/><polygon points="1461.1,1037.2 1476.1,1044.8 1476.1,1062 1461.1,1069.6 1446.1,1062 1446.1,1044.8"/><polygon points="1485,1051.1 1500,1058.7 1500,1075.9 1485,1083.5 1470.1,1075.9 1470.1,1058.7"/><polygon points="1509,1066.8 1524,1074.4 1524,1091.6 1509,1099.2 1494,1091.6 1494,1074.4"/><polygon points="1533,1075.1 1547.9,1082.7 1547.9,1099.9 1533,1107.5 1518,1099.9 1518,1082.7"/><polygon points="1556.9,1087.5 1571.9,1095.1 1571.9,1112.3 1556.9,1119.9 1541.9,1112.3 1541.9,1095.1"/><polygon points="1580.9,1098.3 1595.8,1105.9 1595.8,1123.1 1580.9,1130.7 1565.9,1123.1 1565.9,1105.9"/><polygon points="1604.8,1107.1 1619.8,1114.7 1619.8,1131.9 1604.8,1139.5 1589.8,1131.9 1589.8,1114.7"/><polygon points="1628.8,1096.8 1643.7,1104.4 1643.7,1121.6 1628.8,1129.2 1613.8,1121.6 1613.8,1104.4"/><polygon points="1652.7,1092.8 1667.7,1100.4 1667.7,1117.6 1652.7,1125.2 1637.7,1117.6 1637.7,1100.4"/><polygon points="1676.7,1083.8 1691.6,1091.4 1691.6,1108.6 1676.7,1116.2 1661.7,1108.6 1661.7,1091.4"/><polygon points="1700.6,1084.8 1715.6,1092.4 1715.6,1109.6 1700.6,1117.2 1685.6,1109.6 1685.6,1092.4"/></g>
<g fill="#000080"><polygon points="405.9,159.1 408.7,159.1 426.2,176.6 426.2,179.4 408.7,196.9 405.9,196.9 388.4,179.4 388.4,176.6"/><polygon points="429.9,141.7 432.6,141.7 450.1,159.2 450.1,162 432.6,179.5 429.9,179.5 412.4,162 412.4,159.2"/><polygon points="453.8,142.3 456.6,142.3 474.1,159.8 474.1,162.6 456.6,180.1 453.8,180.1 436.3,162.6 436.3,159.8"/><polygon points="477.8,150 480.6,150 498.1,167.5 498.1,170.3 480.6,187.8 477.8,187.8 460.3,170.3 460.3,167.5"/><polygon points="501.7,161.6 504.5,161.6 522,179.1 522,181.9 504.5,199.4 501.7,199.4 484.2,181.9 484.2,179.1"/><polygon points="525.6,174.3 528.4,174.3 545.9,191.8 545.9,194.6 528.4,212.1 525.6,212.1 508.1,194.6 508.1,191.8"/><polygon points="549.6,188.1 552.4,188.1 569.9,205.6 569.9,208.4 552.4,225.9 549.6,225.9 532.1,208.4 532.1,205.6"/><polygon points="573.6,203.8 576.4,203.8 593.9,221.3 593.9,224.1 576.4,241.6 573.6,241.6 556.1,224.1 556.1,221.3"/><polygon points="597.5,219.7 600.3,219.7 617.8,237.2 617.8,240 600.3,257.5 597.5,257.5 580,240 580,237.2"/><polygon points="621.5,238.8 624.2,238.8 641.8,256.3 641.8,259.1 624.2,276.6 621.5,276.6 604,259.1 604,256.3"/><polygon points="645.4,258.3 648.2,258.3 665.7,275.8 665.7,278.6 648.2,296.1 645.4,296.1 627.9,278.6 627.9,275.8"/><polygon points="669.4,278.1 672.1,278.1 689.6,295.6 689.6,298.4 672.1,315.9 669.4,315.9 651.9,298.4 651.9,295.6"/><polygon points="693.3,298.9 696.1,298.9 713.6,316.4 713.6,319.2 696.1,336.7 693.3,336.7 675.8,319.2 675.8,316.4"/><polygon points="717.3,320.1 720.1,320.1 737.6,337.6 737.6,340.4 720.1,357.9 717.3,357.9 699.8,340.4 699.8,337.6"/><polygon points="741.2,341.1 744,341.1 761.5,358.6 761.5,361.4 744,378.9 741.2,378.9 723.7,361.4 723.7,358.6"/><polygon points="765.1,362.8 767.9,362.8 785.4,380.3 785.4,383.1 767.9,400.6 765.1,400.6 747.6,383.1 747.6,380.3"/><polygon points="789.1,385.1 791.9,385.1 809.4,402.6 809.4,405.4 791.9,422.9 789.1,422.9 771.6,405.4 771.6,402.6"/><polygon points="813.1,406.4 815.9,406.4 833.4,423.9 833.4,426.7 815.9,444.2 813.1,444.2 795.6,426.7 795.6,423.9"/><polygon points="837,427.6 839.8,427.6 857.3,445.1 857.3,447.9 839.8,465.4 837,465.4 819.5,447.9 819.5,445.1"/><polygon points="861,450 863.8,450 881.2,467.5 881.2,470.3 863.8,487.8 861,487.8 843.5,470.3 843.5,467.5"/><polygon points="884.9,472.1 887.7,472.1 905.2,489.6 905.2,492.4 887.7,509.9 884.9,509.9 867.4,492.4 867.4,489.6"/><polygon points="908.9,493.6 911.6,493.6 929.1,511.1 929.1,513.9 911.6,531.4 908.9,531.4 891.4,513.9 891.4,511.1"/><polygon points="932.8,516.1 935.6,516.1 953.1,533.6 953.1,536.4 935.6,553.9 932.8,553.9 915.3,536.4 915.3,533.6"/><polygon points="956.8,538.8 959.6,538.8 977.1,556.3 977.1,559.1 959.6,576.6 956.8,576.6 939.3,559.1 939.3,556.3"/><polygon points="980.7,561.1 983.5,561.1 1001,578.6 1001,581.4 983.5,598.9 980.7,598.9 963.2,581.4 963.2,578.6"/><polygon points="1004.6,583.7 1007.4,583.7 1025,601.2 1025,604 1007.4,621.5 1004.6,621.5 987.1,604 987.1,601.2"/><polygon points="1028.6,607.1 1031.4,607.1 1048.9,624.6 1048.9,627.4 1031.4,644.9 1028.6,644.9 1011.1,627.4 1011.1,624.6"/><polygon points="1052.5,630.5 1055.4,630.5 1072.9,648 1072.9,650.8 1055.4,668.3 1052.5,668.3 1035,650.8 1035,648"/><polygon points="1076.5,653.4 1079.3,653.4 1096.8,670.9 1096.8,673.7 1079.3,691.2 1076.5,691.2 1059,673.7 1059,670.9"/><polygon points="1100.5,677.4 1103.3,677.4 1120.8,694.9 1120.8,697.7 1103.3,715.2 1100.5,715.2 1083,697.7 1083,694.9"/><polygon points="1124.4,700.8 1127.2,700.8 1144.7,718.3 1144.7,721.1 1127.2,738.6 1124.4,738.6 1106.9,721.1 1106.9,718.3"/><polygon points="1148.3,724.3 1151.2,724.3 1168.7,741.8 1168.7,744.6 1151.2,762.1 1148.3,762.1 1130.8,744.6 1130.8,741.8"/><polygon points="1172.3,747.7 1175.1,747.7 1192.6,765.2 1192.6,768 1175.1,785.5 1172.3,785.5 1154.8,768 1154.8,765.2"/><polygon points="1196.2,770.6 1199.1,770.6 1216.6,788.1 1216.6,790.9 1199.1,808.4 1196.2,808.4 1178.8,790.9 1178.8,788.1"/><polygon points="1220.2,793.7 1223,793.7 1240.5,811.2 1240.5,814 1223,831.5 1220.2,831.5 1202.7,814 1202.7,811.2"/><polygon points="1244.1,816.1 1247,816.1 1264.5,833.6 1264.5,836.4 1247,853.9 1244.1,853.9 1226.6,836.4 1226.6,833.6"/><polygon points="1268.1,837.1 1270.9,837.1 1288.4,854.6 1288.4,857.4 1270.9,874.9 1268.1,874.9 1250.6,857.4 1250.6,854.6"/><polygon points="1292,857.4 1294.9,857.4 1312.4,874.9 1312.4,877.7 1294.9,895.2 1292,895.2 1274.5,877.7 1274.5,874.9"/><polygon points="1316,876.8 1318.8,876.8 1336.3,894.3 1336.3,897.1 1318.8,914.6 1316,914.6 1298.5,897.1 1298.5,894.3"/><polygon points="1340,896.1 1342.8,896.1 1360.3,913.6 1360.3,916.4 1342.8,933.9 1340,933.9 1322.5,916.4 1322.5,913.6"/><polygon points="1363.9,914 1366.7,914 1384.2,931.5 1384.2,934.3 1366.7,951.8 1363.9,951.8 1346.4,934.3 1346.4,931.5"/><polygon points="1387.9,931.9 1390.7,931.9 1408.2,949.4 1408.2,952.2 1390.7,969.7 1387.9,969.7 1370.4,952.2 1370.4,949.4"/><polygon points="1411.8,952.6 1414.6,952.6 1432.1,970.1 1432.1,972.9 1414.6,990.4 1411.8,990.4 1394.3,972.9 1394.3,970.1"/><polygon points="1435.7,967.8 1438.5,967.8 1456,985.3 1456,988.1 1438.5,1005.6 1435.7,1005.6 1418.2,988.1 1418.2,985.3"/><polygon points="1459.7,985.7 1462.5,985.7 1480,1003.2 1480,1006 1462.5,1023.5 1459.7,1023.5 1442.2,1006 1442.2,1003.2"/><polygon points="1483.6,998.1 1486.5,998.1 1504,1015.6 1504,1018.4 1486.5,1035.9 1483.6,1035.9 1466.1,1018.4 1466.1,1015.6"/><polygon points="1507.6,1011.9 1510.4,1011.9 1527.9,1029.4 1527.9,1032.2 1510.4,1049.7 1507.6,1049.7 1490.1,1032.2 1490.1,1029.4"/><polygon points="1531.5,1027 1534.4,1027 1551.9,1044.5 1551.9,1047.3 1534.4,1064.8 1531.5,1064.8 1514,1047.3 1514,1044.5"/><polygon points="1555.5,1044.9 1558.3,1044.9 1575.8,1062.4 1575.8,1065.2 1558.3,1082.7 1555.5,1082.7 1538,1065.2 1538,1062.4"/><polygon points="1579.5,1050.3 1582.3,1050.3 1599.8,1067.8 1599.8,1070.6 1582.3,1088.1 1579.5,1088.1 1562,1070.6 1562,1067.8"/><polygon points="1603.4,1064.1 1606.2,1064.1 1623.7,1081.6 1623.7,1084.4 1606.2,1101.9 1603.4,1101.9 1585.9,1084.4 1585.9,1081.6"/><polygon points="1627.3,1075.1 1630.2,1075.1 1647.7,1092.6 1647.7,1095.4 1630.2,1112.9 1627.3,1112.9 1609.8,1095.4 1609.8,1092.6"/><polygon points="1651.3,1075.1 1654.1,1075.1 1671.6,1092.6 1671.6,1095.4 1654.1,1112.9 1651.3,1112.9 1633.8,1095.4 1633.8,1092.6"/><polygon points="1675.2,1085.6 1678.1,1085.6 1695.6,1103.1 1695.6,1105.9 1678.1,1123.4 1675.2,1123.4 1657.8,1105.9 1657.8,1103.1"/><polygon points="1699.2,1079.1 1702,1079.1 1719.5,1096.6 1719.5,1099.4 1702,1116.9 1699.2,1116.9 1681.7,1099.4 1681.7,1096.6"/></g>
<g stroke="#0000ff" fill="none"><path d="M420 911.1H745" stroke-width="5.4"/><path d="M819.35 916.6V1430" stroke-width="5"/></g>
<g fill="#0000ff"><polygon points="394,910.8 426.8,900.6 426.8,920"/><polygon points="819.8,1459.8 810.9,1424.6 829.9,1424.6"/></g>
<g fill="#000000"><rect x="1320.7" y="106.4" width="24.6" height="24.6"/></g>
<g fill="#ff0000"><circle cx="1333" cy="200.4" r="14.7"/></g>
<g fill="#0000ff"><polygon points="1332,264.4 1348.5,291.9 1315.5,291.9"/></g>
<g fill="#990080"><polygon points="1332,384.4 1348.5,355.4 1315.5,355.4"/></g>
<g fill="#990000"><polygon points="1332,430.5 1346.5,437.9 1346.5,454.5 1332,461.9 1317.5,454.5 1317.5,437.9"/></g>
<g fill="#000080"><polygon points="1331.7,509.8 1334.3,509.8 1350.7,526.2 1350.7,528.8 1334.3,545.2 1331.7,545.2 1315.3,528.8 1315.3,526.2"/></g>
<g transform="translate(0 138.8) scale(1 1.05)"><text><tspan x="1408.72" y="0" style="font-size:61.2px">1</tspan><tspan x="1440.74" y="0" style="font-size:61.2px">00 mg·L</tspan><tspan x="1668.25" y="-24.76" style="font-size:41.5px">–</tspan><tspan x="1692.7" y="-24.76" style="font-size:41.5px">1</tspan></text><g fill="#ffffff"><rect x="1412.38" y="-5.87" width="11.73" height="6.77"/><rect x="1429.52" y="-5.87" width="11.25" height="6.77"/><rect x="1694.86" y="-29.16" width="8.27" height="5.3"/><rect x="1706.8" y="-29.16" width="7.95" height="5.3"/></g></g>
<g transform="translate(0 220.2) scale(1 1.05)"><text><tspan x="1406.7" y="0" style="font-size:61.2px">300 mg·L</tspan><tspan x="1668.25" y="-24.76" style="font-size:41.5px">–</tspan><tspan x="1692.7" y="-24.76" style="font-size:41.5px">1</tspan></text><g fill="#ffffff"><rect x="1694.86" y="-29.16" width="8.27" height="5.3"/><rect x="1706.8" y="-29.16" width="7.95" height="5.3"/></g></g>
<g transform="translate(0 301.7) scale(1 1.05)"><text><tspan x="1406.7" y="0" style="font-size:61.2px">500 mg·L</tspan><tspan x="1668.25" y="-24.76" style="font-size:41.5px">–</tspan><tspan x="1692.7" y="-24.76" style="font-size:41.5px">1</tspan></text><g fill="#ffffff"><rect x="1694.86" y="-29.16" width="8.27" height="5.3"/><rect x="1706.8" y="-29.16" width="7.95" height="5.3"/></g></g>
<g transform="translate(0 383.4) scale(1 1.05)"><text><tspan x="1406.7" y="0" style="font-size:61.2px">800 mg·L</tspan><tspan x="1668.25" y="-24.76" style="font-size:41.5px">–</tspan><tspan x="1692.7" y="-24.76" style="font-size:41.5px">1</tspan></text><g fill="#ffffff"><rect x="1694.86" y="-29.16" width="8.27" height="5.3"/><rect x="1706.8" y="-29.16" width="7.95" height="5.3"/></g></g>
<g transform="translate(0 465.3) scale(1 1.05)"><text><tspan x="1408.72" y="0" style="font-size:61.2px">1</tspan><tspan x="1440.74" y="0" style="font-size:61.2px">200 mg·L</tspan><tspan x="1702.28" y="-24.76" style="font-size:41.5px">–</tspan><tspan x="1726.73" y="-24.76" style="font-size:41.5px">1</tspan></text><g fill="#ffffff"><rect x="1412.38" y="-5.87" width="11.73" height="6.77"/><rect x="1429.52" y="-5.87" width="11.25" height="6.77"/><rect x="1728.89" y="-29.16" width="8.27" height="5.3"/><rect x="1740.84" y="-29.16" width="7.95" height="5.3"/></g></g>
<g transform="translate(0 546.9) scale(1 1.05)"><text><tspan x="1408.72" y="0" style="font-size:61.2px">1</tspan><tspan x="1440.74" y="0" style="font-size:61.2px">700 mg·L</tspan><tspan x="1702.28" y="-24.76" style="font-size:41.5px">–</tspan><tspan x="1726.73" y="-24.76" style="font-size:41.5px">1</tspan></text><g fill="#ffffff"><rect x="1412.38" y="-5.87" width="11.73" height="6.77"/><rect x="1429.52" y="-5.87" width="11.25" height="6.77"/><rect x="1728.89" y="-29.16" width="8.27" height="5.3"/><rect x="1740.84" y="-29.16" width="7.95" height="5.3"/></g></g>
<g transform="translate(96.5 890.8) rotate(-90) scale(1 1.05)"><text style="font-size:102px" x="0" y="0">(mPa<tspan dx="-3">·</tspan><tspan dx="-3">s)</tspan></text></g>
<g transform="translate(96.8 973) rotate(-90) scale(1.25 1)"><text class="it" style="font-size:100.6px" x="0" y="0">η</text></g>
<text><tspan class="it" style="font-size:110px" x="975" y="1747.3">γ</tspan><tspan style="font-size:102px" x="1033.5" y="1757.6">(s</tspan><tspan class="se" style="font-size:68px" x="1119.5" y="1713.4">–</tspan><tspan class="se" style="font-size:68px" x="1156.5" y="1716">1</tspan><tspan style="font-size:102px" x="1194" y="1757.6">)</tspan></text>
<circle cx="1004.3" cy="1677.8" r="5.2" fill="#000"/>
<g transform="translate(519.6 992.2) scale(1.21 1)"><text class="it" style="font-size:78.9px" x="0" y="0">η</text></g>
<text class="se" style="font-size:46px" x="561.2" y="1010.5">0</text>
<text class="it" style="font-size:88.7px" x="741.4" y="1396.9">γ</text>
<rect x="759.2" y="1337.2" width="8.2" height="8" fill="#000"/>
<text style="font-size:46px" x="770.8" y="1418.4">c</text>
</svg></body></html>
